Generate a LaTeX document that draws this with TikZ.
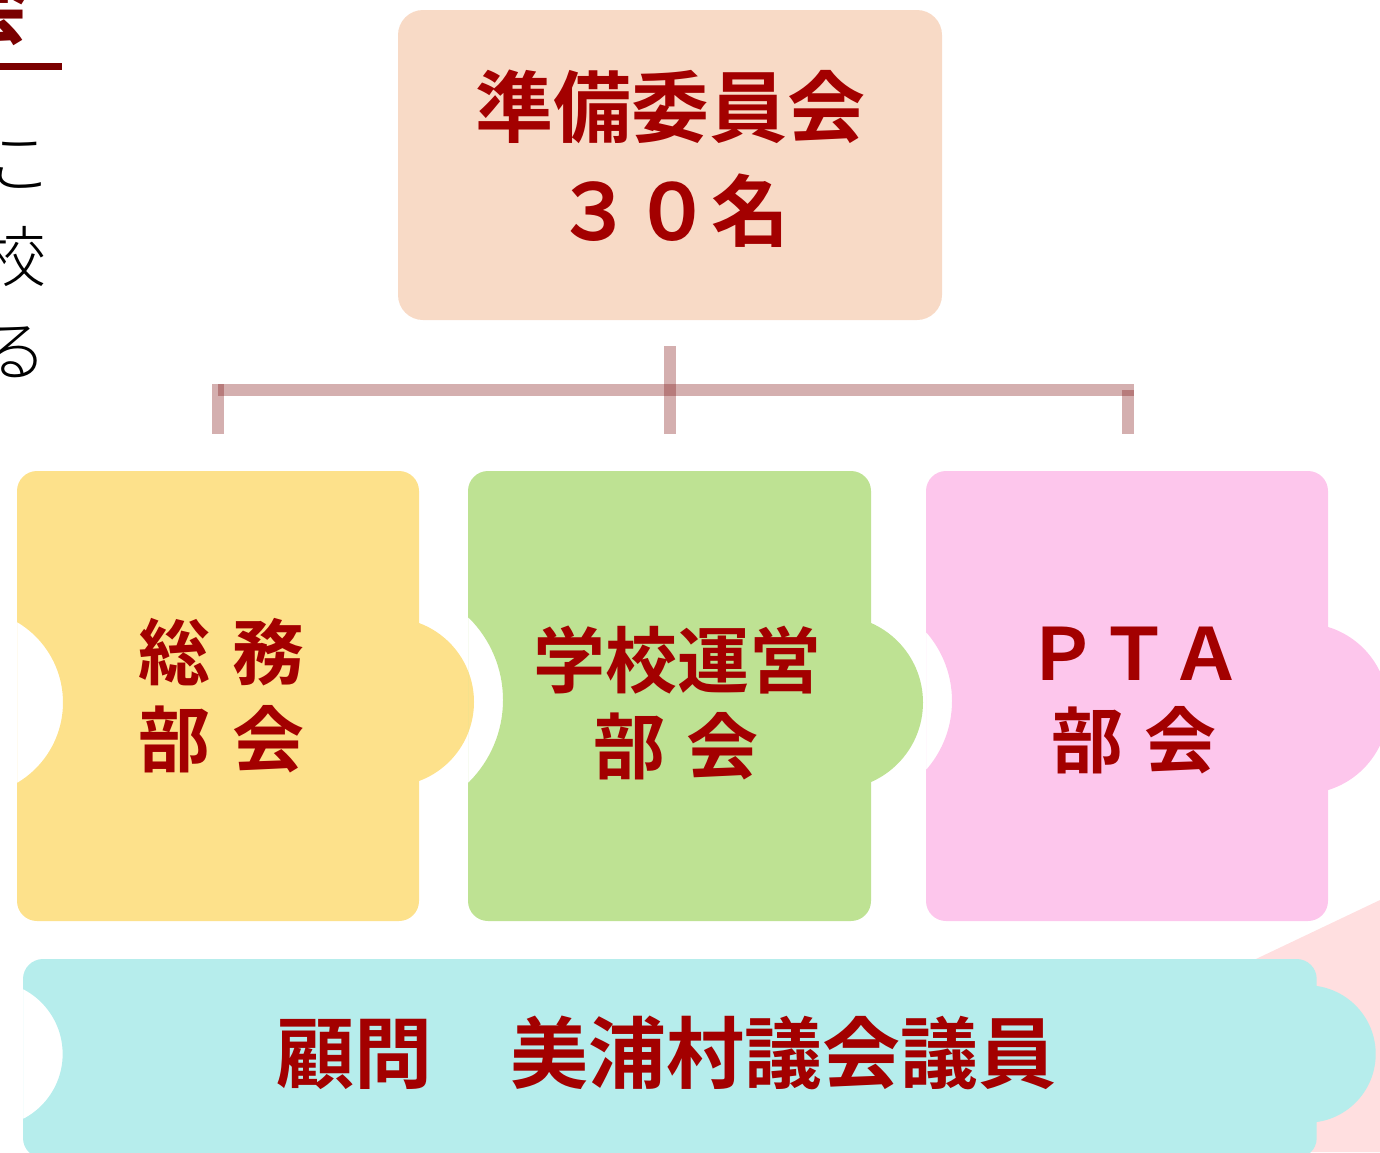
\documentclass[tikz,border=0pt]{standalone}
\usepackage{fontspec}
\newfontfamily\jp{Noto Sans CJK JP}[UprightFont=* Bold]
\newfontfamily\jpl{Noto Sans CJK JP}[UprightFont=* Light]
\definecolor{txtred}{HTML}{A30000}
\definecolor{darkred}{HTML}{7A0000}
\definecolor{linecol}{HTML}{801515}
\definecolor{cpeach}{HTML}{F8DAC6}
\definecolor{cyellow}{HTML}{FDE18B}
\definecolor{cgreen}{HTML}{BEE293}
\definecolor{cpink}{HTML}{FDC6EC}
\definecolor{ccyan}{HTML}{B6EDEC}
\definecolor{bgpink}{HTML}{FFDFE0}
\tikzset{
  lblbig/.style={text=txtred, font=\jp\fontsize{78}{90}\selectfont, inner sep=0pt},
  lblmid/.style={text=txtred, font=\jp\fontsize{72}{84}\selectfont, inner sep=0pt},
  sidetxt/.style={text=black, font=\jpl\fontsize{66}{80}\selectfont, inner sep=0pt},
  conn/.style={draw=linecol, draw opacity=0.34, line width=12pt, line cap=butt},
  topbox/.style={fill=cpeach, rounded corners=25pt, minimum width=544pt, minimum height=310pt, inner sep=0pt}
}
\begin{document}
\begin{tikzpicture}[x=1pt,y=-1pt]
\useasboundingbox (0,0) rectangle (1380,1152);
\clip (0,0) rectangle (1380,1152);
% background pink triangle
\fill[bgpink] (1380,900) -- (850,1152) -- (1380,1152) -- cycle;

% left partial text
\node[text=darkred, font=\jp\fontsize{80}{90}\selectfont, inner sep=0pt] (pc) at (-10,8) {会};
\draw[darkred, line width=7pt] (0,66.5) coordinate (ul1) -- (62,66.5) coordinate (ul2);
\node[sidetxt] (s1) at (20,165) {こ};
\node[sidetxt] (s2) at (14,257) {校};
\node[sidetxt] (s3) at (15,352) {る};

% top box
\node[topbox] (top) at (670,165) {};
\node[lblbig] (t1) at (670,107) {準備委員会};
\node[lblbig] (t2) at (672,211) {３０名};

% connectors
\coordinate (c0) at (670,346);
\coordinate (c0b) at (670,434);
\coordinate (h1) at (218,390);
\coordinate (h2) at (1134,390);
\coordinate (l1) at (218,384);
\coordinate (l2) at (218,434);
\coordinate (r1) at (1127.5,390);
\coordinate (r2) at (1127.5,434);
\draw[conn] (c0) -- (c0b);
\draw[conn] (h1) -- (h2);
\draw[conn] (l1) -- (l2);
\draw[conn] (r1) -- (r2);

% yellow box
\begin{scope}
\clip (17,460) rectangle (520,930);
\fill[cyellow, even odd rule] [rounded corners=20pt] (17,471) rectangle (419,921) [sharp corners] (-30.4,702.5) circle[radius=93.4];
\end{scope}
\fill[cyellow] (389.8,702) circle[radius=84.2];
% green box
\begin{scope}
\clip (468,460) rectangle (980,930);
\fill[cgreen, even odd rule] [rounded corners=20pt] (468,471) rectangle (871,921) [sharp corners] (387.1,700) circle[radius=115.9];
\end{scope}
\fill[cgreen] (836.2,702.5) circle[radius=86.8];
% pink box
\begin{scope}
\clip (926,460) rectangle (1400,930);
\fill[cpink, even odd rule] [rounded corners=20pt] (926,471) rectangle (1328,921) [sharp corners] (847.4,701) circle[radius=104.6];
\end{scope}
\fill[cpink] (1303,708.5) circle[radius=85.3];
% cyan box
\begin{scope}
\clip (23,950) rectangle (1400,1170);
\fill[ccyan, even odd rule] [rounded corners=20pt] (23,959) rectangle (1316.7,1158) [sharp corners] (-10.4,1054) circle[radius=73.06];
\end{scope}
\fill[ccyan] (1307,1054) circle[radius=68.7];

% labels
\node[lblmid] (y1) at (221.5,652) {総\hspace{22pt}務};
\node[lblmid] (y2) at (221.5,739) {部\hspace{22pt}会};
\node[lblmid] (g1) at (677,660) {学校運営};
\node[lblmid] (g2) at (676,746) {部\hspace{22pt}会};
\node[lblmid] (p1) at (1134,654) {ＰＴＡ};
\node[lblmid] (p2) at (1134,740) {部\hspace{22pt}会};
\node[lblbig] (b1) at (666,1053) {顧問　美浦村議会議員};
\end{tikzpicture}
\end{document}
